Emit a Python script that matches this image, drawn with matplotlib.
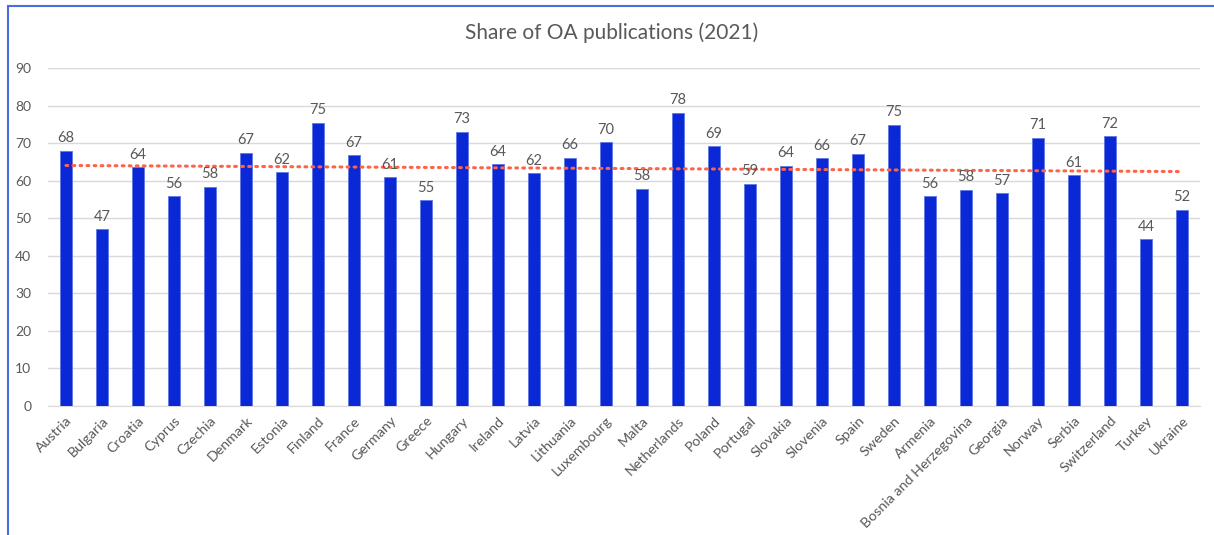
import numpy as np
import matplotlib
matplotlib.use("Agg")
import matplotlib.pyplot as plt
from matplotlib.patches import Rectangle

countries = [
    "Austria", "Bulgaria", "Croatia", "Cyprus", "Czechia", "Denmark", "Estonia",
    "Finland", "France", "Germany", "Greece", "Hungary", "Ireland", "Latvia",
    "Lithuania", "Luxembourg", "Malta", "Netherlands", "Poland", "Portugal",
    "Slovakia", "Slovenia", "Spain", "Sweden", "Armenia", "Bosnia and Herzegovina",
    "Georgia", "Norway", "Serbia", "Switzerland", "Turkey", "Ukraine",
]
oa_share = [
    68.0, 47.1, 63.6, 55.8, 58.3, 67.4, 62.2,
    75.4, 66.7, 60.9, 54.8, 73.0, 64.4, 62.0,
    66.1, 70.2, 57.9, 78.0, 69.2, 59.2,
    64.0, 66.0, 67.2, 74.8, 55.8, 57.6,
    56.6, 71.4, 61.4, 71.8, 44.4, 52.2,
]
yticks = [0, 10, 20, 30, 40, 50, 60, 70, 80, 90]

plt.rcParams["font.family"] = ["Lato", "DejaVu Sans"]
grey = "#595959"

fig = plt.figure(figsize=(12.14, 5.35), dpi=100)
ax = fig.add_axes([0.0395, 0.241, 0.949, 0.632])

x = np.arange(len(countries))
ax.bar(x, oa_share, width=0.34, color="#0B28D6", edgecolor="#5F78E6", linewidth=0.6, zorder=3)

# linear trend line
coef = np.polyfit(x, oa_share, 1)
ax.plot(x, np.polyval(coef, x), linestyle=(0, (0.6, 1.7)), color="#FF6347",
        linewidth=2.2, dash_capstyle="round", zorder=4)

for xi, v in zip(x, oa_share):
    ax.annotate(f"{round(v):d}", (xi, v), xytext=(0, 4), textcoords="offset points",
                ha="center", va="bottom", fontsize=10.5, color=grey, zorder=5)

ax.set_xlim(-0.5, len(countries) - 0.5)
ax.set_ylim(0, 90)
ax.set_yticks(yticks)
ax.set_xticks(x)
ax.set_xticklabels(countries, rotation=45, ha="right", rotation_mode="anchor",
                   fontsize=10.3, color=grey)
ax.tick_params(axis="y", length=0, labelsize=10, labelcolor=grey, pad=12)
ax.tick_params(axis="x", length=0, pad=6)
ax.grid(axis="y", color="#D9D9D9", linewidth=1, zorder=0)
for side in ["top", "right", "left"]:
    ax.spines[side].set_visible(False)
ax.spines["bottom"].set_color("#D9D9D9")

fig.text(0.504, 0.938, "Share of OA publications (2021)", ha="center", va="center",
         fontsize=15, color=grey)

# chart border (only top and left edges visible in the crop)
fig.add_artist(Rectangle((8 / 1214, -0.1), 1.2, 1.1 - 6 / 535, transform=fig.transFigure,
                         fill=False, edgecolor="#4A6CE0", linewidth=1.5, clip_on=False))

fig.savefig("out.png", dpi=100)
